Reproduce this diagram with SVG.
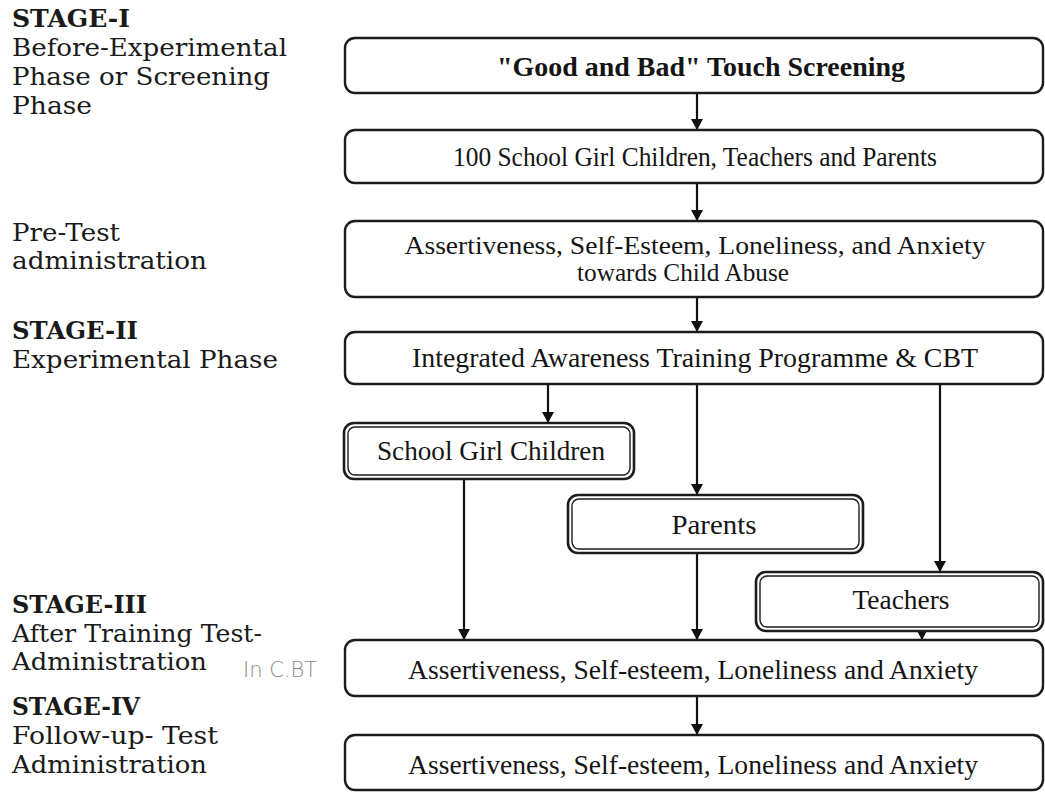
<svg xmlns="http://www.w3.org/2000/svg" width="1045" height="792" viewBox="0 0 1045 792">
  <style>
    .stage { font-family: "DejaVu Serif", "Liberation Serif", serif; font-size: 23.5px; fill: #1a1a1a; }
    .stage-b { font-weight: bold; }
    .box { fill: #ffffff; stroke: #1c1c1c; stroke-width: 2.4; }
    .outer { fill: #ffffff; stroke: #1c1c1c; stroke-width: 2.6; }
    .inner { fill: none; stroke: #1c1c1c; stroke-width: 1.4; }
    .label { font-family: "Liberation Serif", "Times New Roman", serif; font-size: 27px; fill: #151515; text-anchor: middle; }
    .label-sm { font-size: 26px; }
    .title { font-weight: bold; }
    .edge { stroke: #111111; stroke-width: 2.2; fill: none; marker-end: url(#arrow); }
    .note { font-family: "DejaVu Sans", sans-serif; font-size: 21px; fill: #8c8c8c; font-weight: 200; }
  </style>
  <defs>
    <marker id="arrow" viewBox="0 0 12 13" refX="12" refY="6.5" markerWidth="13" markerHeight="12" markerUnits="userSpaceOnUse" orient="auto">
      <path d="M0,0 L12,6.5 L0,13 Z" fill="#111111"/>
    </marker>
  </defs>

  <rect width="1045" height="792" fill="#ffffff"/>

  <!-- stage captions on the left -->
  <g id="stage-labels">
    <text class="stage stage-b" x="12" y="27" textLength="118" lengthAdjust="spacingAndGlyphs">STAGE-I</text>
    <text class="stage" x="12" y="56" textLength="275" lengthAdjust="spacingAndGlyphs">Before-Experimental</text>
    <text class="stage" x="12" y="85" textLength="258" lengthAdjust="spacingAndGlyphs">Phase or Screening</text>
    <text class="stage" x="12" y="114" textLength="80" lengthAdjust="spacingAndGlyphs">Phase</text>
    <text class="stage" x="12" y="241" textLength="108" lengthAdjust="spacingAndGlyphs">Pre-Test</text>
    <text class="stage" x="12" y="269" textLength="195" lengthAdjust="spacingAndGlyphs">administration</text>
    <text class="stage stage-b" x="12" y="339" textLength="126" lengthAdjust="spacingAndGlyphs">STAGE-II</text>
    <text class="stage" x="12" y="368" textLength="266" lengthAdjust="spacingAndGlyphs">Experimental Phase</text>
    <text class="stage stage-b" x="12" y="613" textLength="135" lengthAdjust="spacingAndGlyphs">STAGE-III</text>
    <text class="stage" x="12" y="642" textLength="250" lengthAdjust="spacingAndGlyphs">After Training Test-</text>
    <text class="stage" x="12" y="670" textLength="195" lengthAdjust="spacingAndGlyphs">Administration</text>
    <text class="stage stage-b" x="12" y="715" textLength="128" lengthAdjust="spacingAndGlyphs">STAGE-IV</text>
    <text class="stage" x="12" y="744" textLength="206" lengthAdjust="spacingAndGlyphs">Follow-up- Test</text>
    <text class="stage" x="12" y="773" textLength="195" lengthAdjust="spacingAndGlyphs">Administration</text>
  </g>

  <!-- pencil note -->
  <text class="note" x="243" y="677">In C.BT</text>

  <!-- connectors -->
  <g id="connectors">
    <line class="edge" x1="697" y1="93" x2="697" y2="130"/>
    <line class="edge" x1="697" y1="183" x2="697" y2="221"/>
    <line class="edge" x1="697" y1="297" x2="697" y2="332"/>
    <line class="edge" x1="548" y1="384" x2="548" y2="423"/>
    <line class="edge" x1="697" y1="384" x2="697" y2="495"/>
    <line class="edge" x1="940" y1="384" x2="940" y2="572"/>
    <line class="edge" x1="464" y1="479" x2="464" y2="640"/>
    <line class="edge" x1="697" y1="553" x2="697" y2="640"/>
    <line class="edge" x1="922" y1="631" x2="922" y2="640"/>
    <line class="edge" x1="697" y1="696" x2="697" y2="735"/>
  </g>

  <g id="screening">
    <rect class="box" x="345" y="38" width="698" height="55" rx="10"/>
    <text class="label title" x="701" y="76" textLength="408" lengthAdjust="spacingAndGlyphs">"Good and Bad" Touch Screening</text>
  </g>

  <g id="sample">
    <rect class="box" x="345" y="130" width="698" height="53" rx="10"/>
    <text class="label" x="695" y="166" textLength="484" lengthAdjust="spacingAndGlyphs">100 School Girl Children, Teachers and Parents</text>
  </g>

  <g id="pre-test">
    <rect class="box" x="345" y="221" width="698" height="76" rx="10"/>
    <text class="label label-sm" x="695" y="254" textLength="581" lengthAdjust="spacingAndGlyphs">Assertiveness, Self-Esteem, Loneliness, and Anxiety</text>
    <text class="label label-sm" x="683" y="281" textLength="212" lengthAdjust="spacingAndGlyphs">towards Child Abuse</text>
  </g>

  <g id="training">
    <rect class="box" x="345" y="332" width="698" height="52" rx="10"/>
    <text class="label" x="695" y="367" textLength="566" lengthAdjust="spacingAndGlyphs">Integrated Awareness Training Programme &amp; CBT</text>
  </g>

  <g id="girls">
    <rect class="outer" x="344" y="423" width="290" height="56" rx="10"/>
    <rect class="inner" x="348" y="427" width="282" height="48" rx="7"/>
    <text class="label" x="491" y="460" textLength="228" lengthAdjust="spacingAndGlyphs">School Girl Children</text>
  </g>

  <g id="parents">
    <rect class="outer" x="568" y="495" width="295" height="58" rx="10"/>
    <rect class="inner" x="572" y="499" width="287" height="50" rx="7"/>
    <text class="label" x="714" y="534" textLength="85" lengthAdjust="spacingAndGlyphs">Parents</text>
  </g>

  <g id="teachers">
    <rect class="outer" x="756" y="572" width="287" height="59" rx="10"/>
    <rect class="inner" x="760" y="576" width="279" height="51" rx="7"/>
    <text class="label" x="901" y="609" textLength="97" lengthAdjust="spacingAndGlyphs">Teachers</text>
  </g>

  <g id="post-test">
    <rect class="box" x="345" y="640" width="698" height="56" rx="10"/>
    <text class="label" x="693" y="679" textLength="570" lengthAdjust="spacingAndGlyphs">Assertiveness, Self-esteem, Loneliness and Anxiety</text>
  </g>

  <g id="follow-up">
    <rect class="box" x="345" y="735" width="698" height="55" rx="10"/>
    <text class="label" x="693" y="774" textLength="570" lengthAdjust="spacingAndGlyphs">Assertiveness, Self-esteem, Loneliness and Anxiety</text>
  </g>
</svg>
